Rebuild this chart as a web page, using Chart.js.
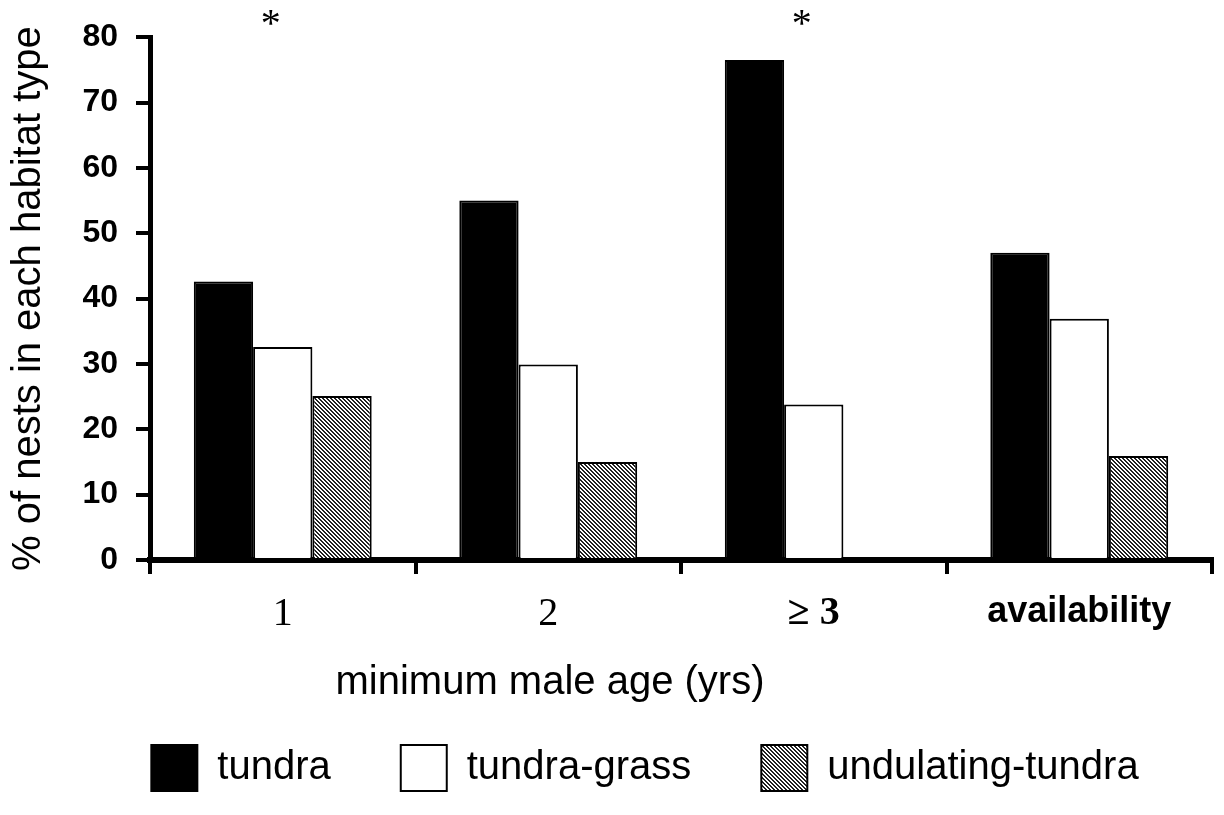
<!DOCTYPE html>
<html>
<head>
<meta charset="utf-8">
<script src="https://cdn.jsdelivr.net/npm/chart.js@4.4.1/dist/chart.umd.min.js"></script>
<style>
  html, body { margin: 0; padding: 0; background: #fff; }
  #wrap { width: 1224px; height: 815px; }
</style>
</head>
<body>
<div id="wrap"><canvas id="chart" width="1224" height="815"></canvas></div>
<script>
// values (% of nests)
const ageGroups = ['1', '2', '\u2265 3', 'availability'];
const tundra = [42.6, 55.0, 76.5, 47.0];
const tundraGrass = [32.6, 29.9, 23.8, 36.9];
const undulatingTundra = [25.1, 15.0, 0, 15.9];
const seriesNames = ['tundra', 'tundra-grass', 'undulating-tundra'];
const yMin = 0;
const yMax = 80;
const yStep = 10;
const starredGroups = [0, 2];
const yTitle = '% of nests in each habitat type';
const xTitle = 'minimum male age (yrs)';

const SANS = '"Liberation Sans", Arial, sans-serif';
const SERIF = '"Liberation Serif", "Times New Roman", serif';

// fine grey diagonal hatch used for the undulating-tundra bars
function makeHatch(ctx) {
  const tile = document.createElement('canvas');
  tile.width = 4;
  tile.height = 4;
  const g = tile.getContext('2d');
  g.fillStyle = '#fff';
  g.fillRect(0, 0, 4, 4);
  g.fillStyle = '#222';
  for (let y = 0; y < 4; y++) {
    for (let x = 0; x < 4; x++) {
      if ((x - y + 8) % 4 < 2) g.fillRect(x, y, 1, 1);
    }
  }
  return ctx.createPattern(tile, 'repeat');
}

// axis titles and significance stars
const extraText = {
  id: 'extraText',
  afterDraw(chart) {
    const { ctx, chartArea: area, scales: { x } } = chart;
    ctx.save();
    ctx.fillStyle = '#000';
    ctx.textAlign = 'center';
    ctx.textBaseline = 'middle';
    ctx.font = `40px ${SANS}`;
    ctx.save();
    ctx.translate(29, (area.top + area.bottom) / 2);
    ctx.rotate(-Math.PI / 2);
    ctx.fillText(yTitle, 0, 0);
    ctx.restore();
    ctx.fillText(xTitle, area.left + 400, 683);
    ctx.font = `40px ${SERIF}`;
    starredGroups.forEach(i => ctx.fillText('*', x.getPixelForValue(i) - 12, 25));
    ctx.restore();
  }
};

const canvas = document.getElementById('chart');
const hatch = makeHatch(canvas.getContext('2d'));

new Chart(canvas, {
  type: 'bar',
  data: {
    labels: ageGroups,
    datasets: [
      { label: seriesNames[0], data: tundra, backgroundColor: '#000', borderColor: '#000', borderWidth: 2 },
      { label: seriesNames[1], data: tundraGrass, backgroundColor: '#fff', borderColor: '#000', borderWidth: 2 },
      { label: seriesNames[2], data: undulatingTundra, backgroundColor: hatch, borderColor: '#000', borderWidth: 2 },
    ],
  },
  options: {
    responsive: false,
    animation: false,
    events: [],
    layout: { padding: { left: 78, right: 12, top: 27, bottom: 14 } },
    datasets: { bar: { categoryPercentage: 0.67, barPercentage: 1.0 } },
    scales: {
      x: {
        afterFit: (scale) => { scale.height = 115; },
        grid: { drawOnChartArea: false, drawTicks: true, tickLength: 14, lineWidth: 4, color: '#000' },
        border: { display: true, color: '#000', width: 6 },
        ticks: {
          color: '#000',
          padding: 16,
          maxRotation: 0,
          font: (c) => {
            if (c.index < 2) return { family: SERIF, size: 40 };
            if (c.index === 2) return { family: SERIF, size: 40, weight: 'bold' };
            return { family: SANS, size: 36, weight: 'bold' };
          },
        },
      },
      y: {
        min: yMin,
        max: yMax,
        afterFit: (scale) => { scale.width = 72; },
        grid: { drawOnChartArea: false, drawTicks: true, tickLength: 14, lineWidth: 4, color: '#000' },
        border: { display: true, color: '#000', width: 5 },
        ticks: {
          stepSize: yStep,
          color: '#000',
          padding: 18,
          font: { family: SANS, size: 32, weight: 'bold' },
        },
      },
    },
    plugins: {
      legend: {
        position: 'bottom',
        labels: {
          color: '#000',
          boxWidth: 46,
          boxHeight: 46,
          padding: 70,
          font: { family: SANS, size: 40 },
        },
      },
      tooltip: { enabled: false },
    },
  },
  plugins: [extraText],
});
</script>
</body>
</html>
